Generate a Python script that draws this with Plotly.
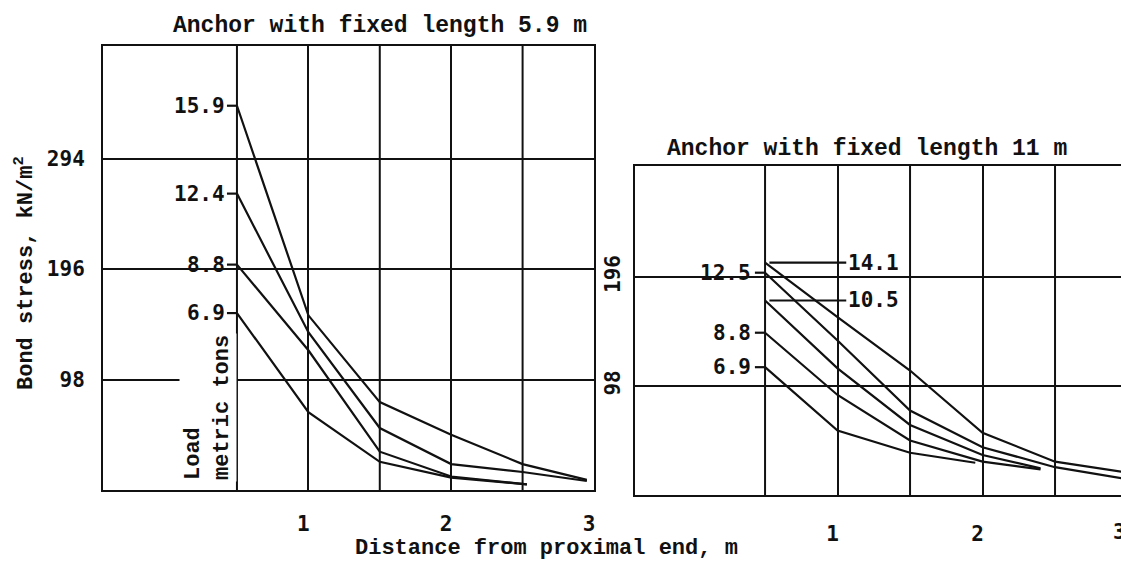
import plotly.graph_objects as go

W, H = 1121, 570

# ---------------- data ----------------
# Left panel: anchor with fixed length 5.9 m
left_loads = ["15.9", "12.4", "8.8", "6.9"]
left_x = [
    [0.5, 1.0, 1.5, 2.0, 2.5, 2.95],
    [0.5, 1.0, 1.5, 2.0, 2.5, 2.95],
    [0.5, 1.0, 1.5, 2.0, 2.53],
    [0.5, 1.0, 1.5, 2.0, 2.53],
]
left_y = [
    [341, 155, 78, 49, 23, 9],
    [263, 140, 55, 23, 16, 8],
    [200, 124, 34, 12, 5],
    [157, 69, 25, 11, 5],
]

# Right panel: anchor with fixed length 11 m
right_loads = ["14.1", "12.5", "10.5", "8.8", "6.9"]
right_x = [
    [0.5, 1.0, 1.5, 2.0, 2.5, 2.96],
    [0.5, 1.0, 1.5, 2.0, 2.5, 2.96],
    [0.5, 1.0, 1.5, 2.0, 2.4],
    [0.5, 1.0, 1.5, 2.0, 2.4],
    [0.5, 1.0, 1.5, 1.95],
]
right_y = [
    [209, 160, 112, 56, 30, 21],
    [200, 139, 76, 43, 25, 15],
    [175, 114, 63, 36, 24],
    [146, 90, 49, 30, 23],
    [115, 58, 38, 29],
]
# which right-panel labels sit to the right of the curves (with a leader line)
right_label_side = ["right", "left", "right", "left", "left"]

x_ticks_left = [1, 2, 3]
x_ticks_right = [1, 2]
x_half_grid = [0.5, 1.5, 2.5]
y_ticks = [98, 196, 294]

title_left = "Anchor with fixed length 5.9 m"
title_right = "Anchor with fixed length 11 m"
x_title = "Distance from proximal end, m"
y_title = "Bond stress, kN/m<sup>2</sup>"
load_title = "Load<br>metric tons"

# ---------------- figure ----------------
INK = "#111111"
WORD_FONT = "Liberation Mono"
NUM_FONT = "DejaVu Sans Mono"
LW = 2.2

fig = go.Figure()

for xs, ys in zip(left_x, left_y):
    fig.add_trace(go.Scatter(x=xs, y=ys, mode="lines", xaxis="x", yaxis="y",
                             line=dict(color=INK, width=LW), showlegend=False,
                             hoverinfo="skip"))
for xs, ys in zip(right_x, right_y):
    fig.add_trace(go.Scatter(x=xs, y=ys, mode="lines", xaxis="x2", yaxis="y2",
                             line=dict(color=INK, width=LW), showlegend=False,
                             hoverinfo="skip"))


def px(v):
    return v / W


def py(v):
    return 1 - v / H


annotations = []
shapes = []

# half-metre grid lines (no labels)
for xr, yr in (("x", "y domain"), ("x2", "y2 domain")):
    for g in x_half_grid:
        shapes.append(dict(type="line", xref=xr, yref=yr, x0=g, x1=g, y0=0, y1=1,
                           line=dict(color=INK, width=2), layer="below"))

num_font = dict(family=NUM_FONT, size=21, color=INK, weight="bold")
word_font = dict(family=WORD_FONT, size=23, color=INK, weight="bold")

# left panel load labels
for lab, ys in zip(left_loads, left_y):
    annotations.append(dict(x=0.43, y=ys[0], xref="x", yref="y", text=lab,
                            showarrow=False, xanchor="right", yanchor="middle",
                            font=num_font))
    shapes.append(dict(type="line", xref="x", yref="y", x0=0.43, x1=0.5,
                       y0=ys[0], y1=ys[0], line=dict(color=INK, width=LW)))

# right panel load labels
for lab, ys, side in zip(right_loads, right_y, right_label_side):
    if side == "left":
        annotations.append(dict(x=0.42, y=ys[0], xref="x2", yref="y2", text=lab,
                                showarrow=False, xanchor="right", yanchor="middle",
                                font=num_font))
        shapes.append(dict(type="line", xref="x2", yref="y2", x0=0.43, x1=0.5,
                           y0=ys[0], y1=ys[0], line=dict(color=INK, width=LW)))
    else:
        annotations.append(dict(x=1.06, y=ys[0], xref="x2", yref="y2", text=lab,
                                showarrow=False, xanchor="left", yanchor="middle",
                                font=num_font))
        shapes.append(dict(type="line", xref="x2", yref="y2", x0=0.53, x1=1.06,
                           y0=ys[0], y1=ys[0], line=dict(color=INK, width=LW)))

# titles
annotations += [
    dict(x=px(380), y=py(26), xref="paper", yref="paper", text=title_left,
         showarrow=False, xanchor="center", yanchor="middle", font=word_font),
    dict(x=px(867), y=py(149), xref="paper", yref="paper", text=title_right,
         showarrow=False, xanchor="center", yanchor="middle", font=word_font),
    dict(x=px(546), y=py(548), xref="paper", yref="paper", text=x_title,
         showarrow=False, xanchor="center", yanchor="middle",
         font=dict(family=WORD_FONT, size=22, color=INK, weight="bold")),
    dict(x=px(25), y=py(273), xref="paper", yref="paper", text=y_title,
         showarrow=False, xanchor="center", yanchor="middle", textangle=-90,
         font=dict(family=WORD_FONT, size=22, color=INK, weight="bold")),
    dict(x=px(208), y=py(408), xref="paper", yref="paper", text=load_title,
         showarrow=False, xanchor="center", yanchor="middle", textangle=-90,
         align="left", bgcolor="white",
         font=dict(family=WORD_FONT, size=22, color=INK, weight="bold")),
    # the "3" of the right panel, cut by the page edge
    dict(x=px(1111), y=py(532), xref="paper", yref="paper", text="3",
         showarrow=False, xanchor="left", yanchor="middle", font=num_font),
]

axis_common = dict(showline=True, linecolor=INK, linewidth=2, showgrid=True,
                   gridcolor=INK, gridwidth=2, zeroline=False, ticks="",
                   tickfont=num_font, fixedrange=True)

fig.update_layout(
    width=W, height=H,
    margin=dict(l=0, r=0, t=0, b=0),
    paper_bgcolor="white", plot_bgcolor="white",
    showlegend=False,
    xaxis=dict(domain=[px(103), px(594)], range=[-0.438, 3.0], anchor="y",
               tickmode="array", tickvals=x_ticks_left, mirror=True,
               ticklabelstandoff=14, ticklabelshift=-5, **axis_common),
    yaxis=dict(domain=[py(490), py(46)], range=[0, 394], anchor="x",
               tickmode="array", tickvals=y_ticks, mirror=True,
               ticklabelstandoff=12, **axis_common),
    xaxis2=dict(domain=[px(635), 1.0], range=[-0.397, 2.955], anchor="y2",
                tickmode="array", tickvals=x_ticks_right, mirror=True,
                ticklabelstandoff=19, ticklabelshift=-5, **axis_common),
    yaxis2=dict(domain=[py(495), py(166)], range=[0, 296], anchor="x2",
                tickmode="array", tickvals=y_ticks[:2], mirror=False,
                tickangle=-90, ticklabelstandoff=5, **axis_common),
    annotations=annotations,
    shapes=shapes,
)

fig.write_html("out.html")
